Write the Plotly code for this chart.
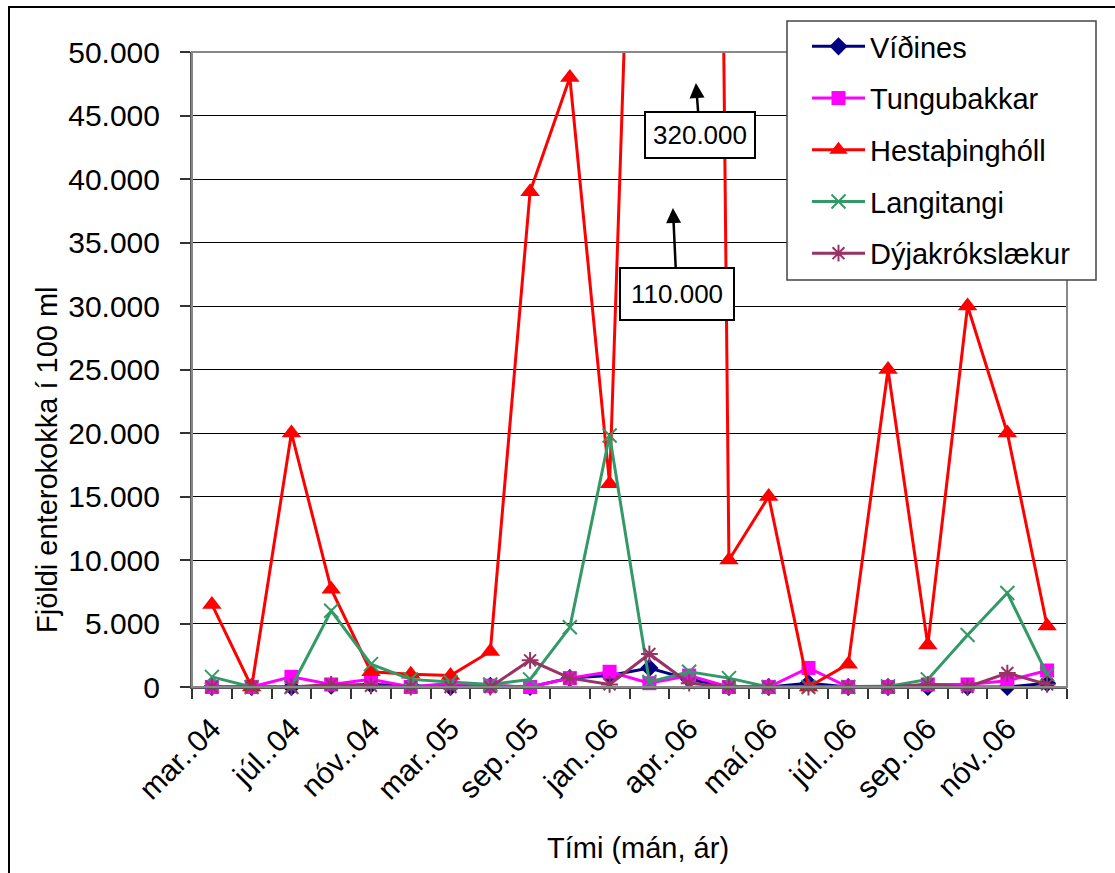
import plotly.graph_objects as go

categories = ["mar..04", "maí..04", "júl..04", "sep..04", "nóv..04", "jan..05",
              "mar..05", "jún..05", "sep..05", "nóv..05", "jan..06", "feb..06",
              "apr..06", "apr2..06", "maí.06", "jún..06", "júl..06", "ágú..06",
              "sep..06", "okt..06", "nóv..06", "des..06"]
tick_labels = ["mar..04", "júl..04", "nóv..04", "mar..05", "sep..05", "jan..06",
               "apr..06", "maí.06", "júl..06", "sep..06", "nóv..06"]

vidines = [0, 0, 0, 100, 200, 100, 0, 100, 0, 700, 900, 1500,
           600, 0, 0, 300, 0, 0, 0, 0, 0, 300]
tungubakkar = [0, 0, 800, 200, 600, 0, 300, 100, 0, 700, 1200, 300,
               900, 0, 0, 1500, 0, 0, 200, 200, 500, 1300]
hestathingholl = [6500, 0, 20000, 7700, 1200, 1000, 900, 2800, 39000, 48000, 16000, 110000,
                  320000, 10000, 15000, 0, 1800, 25000, 3300, 30000, 20000, 4800]
langitangi = [800, 0, 0, 6000, 1800, 600, 400, 200, 600, 4700, 19800, 400,
              1200, 700, 0, 0, 0, 50, 600, 4100, 7400, 1000]
dyjakrokslaekur = [0, 0, 0, 200, 100, 0, 0, 0, 2100, 700, 200, 2600,
                   300, 0, 0, 0, 0, 0, 200, 0, 1100, 200]

FONT = "Liberation Sans, Arial, sans-serif"
xs = list(range(len(categories)))
tickvals = [categories.index(t) for t in tick_labels]

series = [
    ("Víðines", vidines, "#000080", "diamond", 14, None),
    ("Tungubakkar", tungubakkar, "#FF00FF", "square", 14, None),
    ("Hestaþinghóll", hestathingholl, "#FF0000", "triangle-up", 17, None),
    ("Langitangi", langitangi, "#339966", "x-thin", 14, 2),
    ("Dýjakrókslækur", dyjakrokslaekur, "#993366", "asterisk", 14, 2),
]

fig = go.Figure()
for i, (name, vals, col, sym, size, lw) in enumerate(series):
    marker = dict(symbol=sym, size=size, color=col)
    if lw:
        marker["line"] = dict(color=col, width=lw)
    else:
        marker["line"] = dict(width=0)
    fig.add_trace(go.Scatter(
        x=xs, y=vals, name=name, mode="lines+markers",
        line=dict(color=col, width=3), marker=marker,
        cliponaxis=False, legendgroup=f"g{i}",
    ))

# pixel -> paper helpers (plot area: x 192..1067, y 52..687)
def px(x):
    return (x - 192) / 875

def py(y):
    return (687 - y) / 635

fig.update_layout(
    width=1115, height=873,
    margin=dict(l=192, r=48, t=52, b=186),
    paper_bgcolor="white", plot_bgcolor="white",
    separators=",.",
    font=dict(family=FONT, color="black", size=28),
    showlegend=True,
    legend=dict(
        x=px(787), y=py(21), xanchor="left", yanchor="top",
        bgcolor="rgba(0,0,0,0)", borderwidth=0,
        font=dict(family=FONT, size=29, color="black"),
        itemwidth=53, indentation=20, tracegroupgap=11, traceorder="grouped",
    ),
    xaxis=dict(
        range=[-0.5, len(categories) - 0.5],
        tickmode="array", tickvals=tickvals, ticktext=tick_labels,
        tickangle=-45, ticks="", showgrid=False,
        tickfont=dict(family=FONT, size=30, color="black"),
        showline=True, linecolor="#555555", linewidth=2,
        zeroline=False, ticklabelstandoff=10,
        minor=dict(tickmode="linear", tick0=-0.5, dtick=1, ticks="outside",
                   ticklen=10, tickcolor="#333333", tickwidth=1.5, showgrid=False),
    ),
    yaxis=dict(
        range=[0, 50000], tickmode="linear", tick0=0, dtick=5000,
        tickformat=",d", ticks="outside", ticklen=10, tickcolor="#333333",
        tickwidth=1.5,
        tickfont=dict(family=FONT, size=30, color="black"),
        showgrid=True, gridcolor="black", gridwidth=1,
        showline=True, linecolor="#555555", linewidth=2,
        zeroline=False, ticklabelstandoff=14,
    ),
    shapes=[
        dict(type="rect", xref="paper", yref="paper", x0=0, x1=1, y0=0, y1=1,
             line=dict(color="#888888", width=2), fillcolor="rgba(0,0,0,0)", layer="above"),
        dict(type="rect", xref="paper", yref="paper",
             x0=px(787), x1=px(1096), y0=py(280), y1=py(21),
             line=dict(color="#444444", width=1.5), fillcolor="white", layer="above"),
        dict(type="rect", xref="paper", yref="paper",
             x0=px(9), x1=px(1125), y0=py(890), y1=py(7),
             line=dict(color="black", width=2), fillcolor="rgba(0,0,0,0)"),
    ],
    annotations=[
        dict(text="Fjöldi enterokokka í 100 ml", xref="paper", yref="paper",
             x=px(47), y=py(460), xanchor="center", yanchor="middle", textangle=-90,
             showarrow=False, font=dict(family=FONT, size=29, color="black")),
        dict(text="Tími (mán, ár)", xref="paper", yref="paper",
             x=px(638), y=py(848), xanchor="center", yanchor="middle", showarrow=False,
             font=dict(family=FONT, size=29, color="black")),
        dict(text="320.000", x=(696 - 212) / 39.77, y=(687 - 83) / 12.7 * 1000,
             xref="x", yref="y", ax=4, ay=52, showarrow=True,
             arrowhead=2, arrowsize=1.2, arrowwidth=2.5, arrowcolor="black",
             bordercolor="black", borderwidth=2, borderpad=7, bgcolor="white",
             font=dict(family=FONT, size=26, color="black")),
        dict(text="110.000", x=(673 - 212) / 39.77, y=(687 - 208) / 12.7 * 1000,
             xref="x", yref="y", ax=4, ay=86, showarrow=True,
             arrowhead=2, arrowsize=1.2, arrowwidth=2.5, arrowcolor="black",
             bordercolor="black", borderwidth=2, borderpad=10, bgcolor="white",
             font=dict(family=FONT, size=26, color="black")),
    ],
)

fig.write_html("out.html")
